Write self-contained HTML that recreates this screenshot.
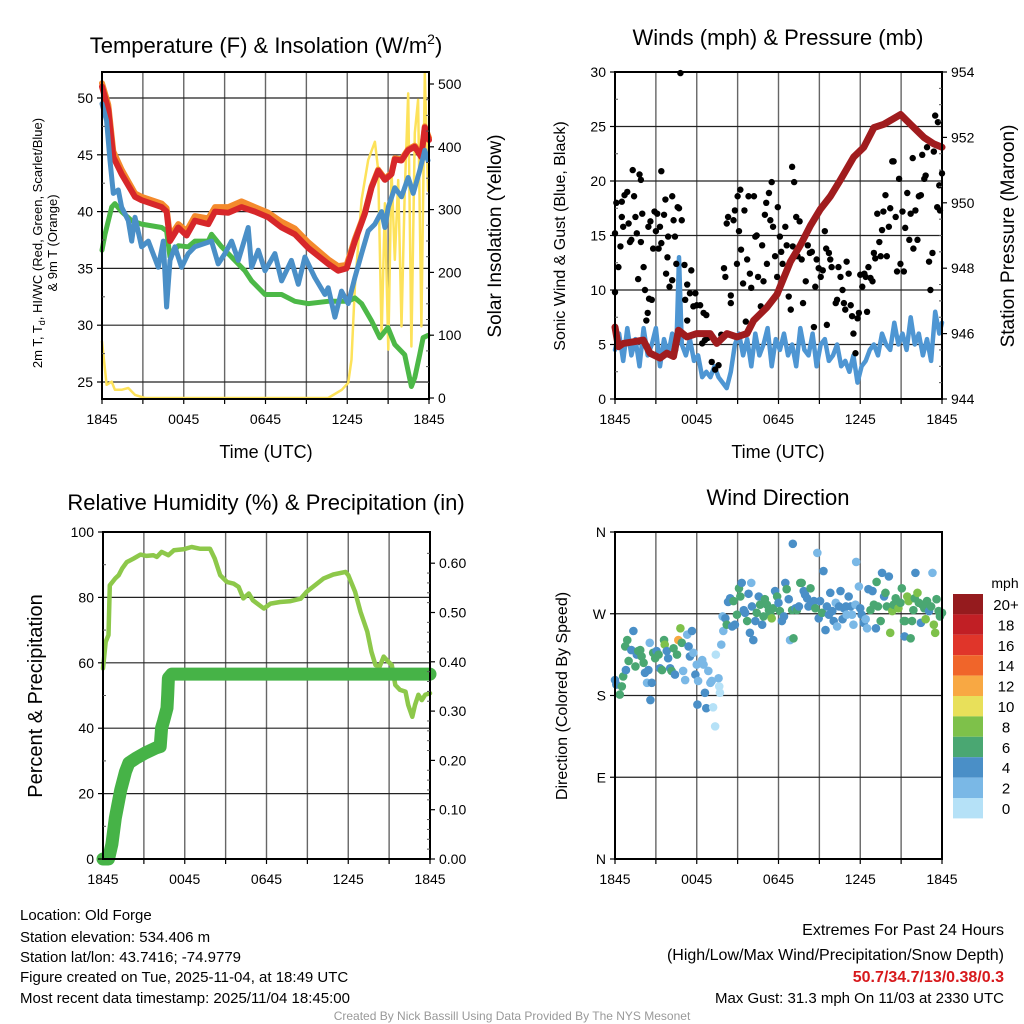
<!DOCTYPE html>
<html><head><meta charset="utf-8"><style>
body{margin:0;background:#fff;}
svg{display:block;font-family:"Liberation Sans",sans-serif;}
</style></head><body>
<svg id="chart" width="1024" height="1024" viewBox="0 0 1024 1024" xmlns="http://www.w3.org/2000/svg">
<rect x="0" y="0" width="1024" height="1024" fill="#fff"/>
<g id="p1"></g>
<g id="p2"></g>
<g id="p3"></g>
<g id="p4"></g>
<g font-size="22" text-anchor="middle" fill="#000">
<text x="266" y="53">Temperature (F) &amp; Insolation (W/m<tspan font-size="14" dy="-9">2</tspan><tspan dy="9">)</tspan></text>
<text x="778" y="45">Winds (mph) &amp; Pressure (mb)</text>
<text x="266" y="510">Relative Humidity (%) &amp; Precipitation (in)</text>
<text x="778" y="505">Wind Direction</text>
</g>
<g fill="#000" text-anchor="middle">
<text x="266" y="458" font-size="18">Time (UTC)</text>
<text x="778" y="458" font-size="18">Time (UTC)</text>
<text transform="translate(42,243) rotate(-90)" font-size="13">2m T, T<tspan font-size="9" dy="3">d</tspan><tspan dy="-3">, HI/WC (Red, Green, Scarlet/Blue)</tspan></text>
<text transform="translate(57,243) rotate(-90)" font-size="13">&amp; 9m T (Orange)</text>
<text transform="translate(501,236) rotate(-90)" font-size="19">Solar Insolation (Yellow)</text>
<text transform="translate(565,236) rotate(-90)" font-size="16">Sonic Wind &amp; Gust (Blue, Black)</text>
<text transform="translate(1014,236) rotate(-90)" font-size="19">Station Pressure (Maroon)</text>
<text transform="translate(42,696) rotate(-90)" font-size="20">Percent &amp; Precipitation</text>
<text transform="translate(567,696) rotate(-90)" font-size="16">Direction (Colored By Speed)</text>
</g>
<g font-size="15" fill="#000">
<text x="20" y="920">Location: Old Forge</text>
<text x="20" y="942">Station elevation: 534.406 m</text>
<text x="20" y="962">Station lat/lon: 43.7416; -74.9779</text>
<text x="20" y="982">Figure created on Tue, 2025-11-04, at 18:49 UTC</text>
<text x="20" y="1003">Most recent data timestamp: 2025/11/04 18:45:00</text>
</g>
<g font-size="16" fill="#000" text-anchor="end">
<text x="1004" y="935">Extremes For Past 24 Hours</text>
<text x="1004" y="960">(High/Low/Max Wind/Precipitation/Snow Depth)</text>
<text x="1004" y="982" fill="#d7191c" font-weight="bold" font-size="16">50.7/34.7/13/0.38/0.3</text>
<text x="1004" y="1003" font-size="15">Max Gust: 31.3 mph On 11/03 at 2330 UTC</text>
</g>
<text x="512" y="1020" font-size="12" fill="#999" text-anchor="middle">Created By Nick Bassill Using Data Provided By The NYS Mesonet</text>
</svg>
<script>
// ---- Panel 1 data (t = hours since 18:45) ----
const redT=[0,0.46,0.83,1.44,2.42,2.91,4.38,4.74,4.99,5.6,6.21,6.82,7.8,8.29,9.27,10.24,11.22,12.2,13.18,14.16,15.14,16.6,17.33,17.95,18.56,19.29,19.78,20.27,20.76,21.25,21.49,21.98,22.47,22.95,23.44,23.69,24];
const redV=[51,49,44.8,43.3,41.3,41,40.4,40,37.4,38.6,37.9,39.2,38.9,40,39.9,40.4,40,39.5,38.6,38,36.8,35.4,34.8,35,37.4,39.8,42.1,43.6,42.8,43.3,44.6,44.5,45.4,45.7,44.8,47.4,46.3];
const orangeV=[51.3,49.4,45.3,43.7,41.6,41.3,40.7,40.3,37.8,38.9,38.3,39.6,39.4,40.4,40.4,40.9,40.4,39.9,39.1,38.5,37.3,35.8,35.2,35.3,37.6,39.9,42.2,43.7,42.9,43.4,44.7,44.6,45.5,45.8,45,47.5,46.5];
const greenT=[0,0.22,0.71,0.95,1.44,2.18,2.91,4.38,4.74,4.99,5.6,6.33,6.82,7.8,8.04,8.78,9.75,10.49,10.98,11.96,13.18,14.16,15.14,16.6,18.07,18.56,19.05,19.78,20.39,20.98,21.49,22.22,22.71,22.96,23.32,23.57,23.93];
const greenV=[36.6,38,40.4,40.7,40,39.2,38.9,38.6,38.3,36,37,36.9,37.4,37.4,38,36.9,35.7,34.8,33.9,32.7,32.7,32.1,31.9,32.1,32.1,32.4,31.9,30.4,28.9,29.8,28.3,27.4,24.6,25.4,27.4,28.9,29.1];
const blueT=[0,0.34,0.59,0.83,1.2,1.44,1.93,2.18,2.42,2.91,3.4,4.13,4.5,4.74,4.99,5.35,5.84,6.33,6.82,8.04,8.53,9.02,9.51,10,10.73,10.98,11.47,11.96,12.69,13.18,13.9,14.41,14.89,15.62,16.36,16.6,17.09,17.58,18.07,18.56,19.05,19.54,20.03,20.52,20.76,21.01,21.49,21.98,22.47,22.84,23.32,23.69,23.93];
const blueV=[49.5,48,44.5,41.6,41.9,40.4,39.2,37.4,39.5,36.9,37.4,35.1,37.4,31.6,35.7,36.9,35.1,36.3,36.9,37.4,35.4,36.3,37.4,35.7,38.6,35.1,36.6,34.8,36.3,33.9,35.7,33.6,36,34.2,32.7,33.3,30.7,33,31.9,34.2,36.3,38.3,38.9,40,38.6,40.4,42.1,41.3,43,41.6,43.6,45.4,44.5];
const solarT=[0,0.34,0.71,0.95,1.44,1.93,2.42,3.15,16.6,17.6,18.07,18.31,18.56,18.8,19.05,19.54,20.03,20.27,20.52,20.76,21.01,21.25,21.49,21.74,21.98,22.22,22.47,22.71,22.96,23.2,23.44,23.69,23.93];
const solarV=[90,21,26,13,13,16,5,0,0,13,24,61,178,241,316,379,408,363,98,310,77,363,220,347,114,326,485,82,422,475,114,517,330];
// ---- Panel 2 data ----
const presT=[0,0.25,0.61,1.35,2.08,2.57,3.31,3.8,4.29,4.66,5.27,6.0,6.98,7.47,8.21,8.95,9.68,10.17,11.15,11.89,12.38,12.87,13.6,14.34,15.07,15.81,16.54,17.52,18.26,19.0,19.73,20.96,21.69,22.67,23.4,24];
const presV=[946.2,945.6,945.7,945.75,945.8,945.4,945.25,945.4,945.3,946.1,945.9,946,946,945.7,946,945.9,946,946.4,946.8,947.2,947.7,948.2,948.7,949.3,949.8,950.2,950.7,951.4,951.7,952.3,952.4,952.7,952.4,952,951.8,951.7];
const windT=[0,0.3,0.6,0.9,1.2,1.5,1.8,2.1,2.4,2.7,3.0,3.3,3.6,3.9,4.2,4.5,4.7,4.9,5.2,5.5,5.8,6.1,6.4,6.7,7.0,7.3,7.6,7.9,8.2,8.5,8.8,9.1,9.4,9.7,10,10.3,10.6,10.9,11.2,11.5,11.8,12.1,12.4,12.7,13,13.3,13.6,13.9,14.2,14.5,14.8,15.1,15.4,15.7,16,16.3,16.6,16.9,17.2,17.5,17.8,18.1,18.4,18.7,19,19.3,19.6,19.9,20.2,20.5,20.8,21.1,21.4,21.7,22,22.3,22.6,22.9,23.2,23.5,23.8,24];
const windV=[4.5,6,3.5,6.5,4,5.5,3,6.5,4,5,6.5,3,5.5,4,6,4.5,13,5,4,5.5,3.5,4,2,2.5,2,3,2,1.5,1,2.5,5,6,4,5.5,3,6,4,5,6.5,3,5.5,4.5,6,4,5,3,6.5,4.5,4,6,3,5,5.5,3.5,4,5,3,3.5,2.5,4,1.5,3,3.5,4.5,5,4,6,5,4.5,7,5,6,4.5,7.5,5,6,4,5.5,3.5,8,6,7];
const gustT=[0,0,0.1,0.25,0.4,0.5,0.5,0.6,0.7,0.9,1,1.1,1.2,1.3,1.4,1.5,1.6,1.7,1.8,1.9,1.9,2.0,2.1,2.2,2.3,2.4,2.5,2.7,2.45,2.6,2.8,2.9,3.0,3.1,3.2,3.3,3.4,3.4,3.6,3.7,3.75,3.85,3.9,4.0,4.2,4.2,4.3,4.4,4.5,4.6,4.7,4.8,4.9,5.1,5.15,5.3,5.3,5.5,5.6,5.75,5.9,6.0,6.25,6.5,6.7,6.4,6.6,6.8,7.1,7.35,7.6,7.8,8.0,8.1,8.2,8.3,8.5,8.5,8.7,8.8,8.95,9.0,9.1,9.2,9.25,9.4,9.5,9.6,9.7,9.8,9.9,10,10.2,10.3,10.4,10.5,10.7,10.8,10.9,11,11.1,11.15,11.3,11.4,11.5,11.6,11.75,11.9,11.95,12.1,12.2,12.3,12.5,12.6,12.75,12.9,13,13.05,13.15,13.3,13.4,13.55,13.7,13.8,14,14.15,14.3,14.45,14.6,14.7,14.8,14.95,15.1,15.25,15.4,15.5,15.55,15.7,15.8,15.9,16.2,16.3,16.4,16.55,16.7,16.8,16.9,17,17.15,17.3,17.4,17.5,17.65,17.8,17.9,18,18.15,18.3,18.4,18.5,18.6,18.75,18.9,19,19.1,19.25,19.4,19.5,19.6,19.7,19.85,19.95,20.1,20.2,20.35,20.45,20.6,20.7,20.85,20.95,21.1,21.2,21.3,21.45,21.6,21.7,21.85,21.9,22.05,22.2,22.3,22.45,22.55,22.7,22.8,22.9,23.05,23.15,23.3,23.4,23.5,23.65,23.7,23.8,23.85,24];
const gustV=[9.8,15.2,18,12.1,14,18.1,16.7,15.8,18.7,19,16.1,14.4,14.6,21,18.6,16.7,15.2,11,20.6,20.1,14.4,17,12.1,10,7.2,7.9,9.2,9.1,15.8,16.3,13.8,17.2,15.4,17,13.8,15.8,14.3,20.9,16.9,18.3,11.5,13,14.9,10.3,10.9,18.6,16.4,14.9,12.4,17.6,17.5,29.9,16.4,12.3,9.1,7.2,10.5,9.7,11.8,8.5,9.7,8.6,8.6,7.9,7.7,5.1,5.4,5.6,3.4,2.7,3.1,5.9,12,11.2,16.1,16.7,9.5,8.8,16.4,17.3,12.4,18.6,15.4,19.2,13.7,10.6,17.3,7.1,12.8,18.6,11.5,10.2,18.6,14.9,15,11.2,8.5,14.1,10.8,16.9,18,12.4,18.9,16.4,19.9,15.8,13.1,11.2,17.6,14.9,13.5,12.4,15.8,14.1,9.4,8.2,21.3,14,19.9,16.7,13.1,16.3,12.8,8.8,10.8,14.1,13.4,13.5,6.6,10.3,12.8,12,11.2,11.8,15.4,13.8,6.8,13.4,12.8,12.1,8.8,9.1,12.1,11.2,10,8.8,8.2,12.6,11.5,8.6,7.6,6,4.2,7.4,7.9,11.4,10.3,11.5,11.2,8,12.1,11.1,10.8,13.4,12.9,17,14.4,13.1,15.5,17.2,18.7,13.1,15.8,17.5,21.8,21.8,16.7,11.7,20.2,12.4,17.2,11.7,15.7,18.9,14.6,17,22.1,13.8,17.3,14.6,18.6,18.7,22.4,20.2,20.5,23.1,12.6,10,13.4,22.7,26,17.6,25.4,19.6,17.3,20.7];
// ---- Panel 3 data ----
const rhT=[0,0.2,0.4,0.5,0.9,1.15,1.4,1.75,2.25,2.75,3.2,3.7,3.95,4.3,4.8,5.2,5.9,6.5,7.1,7.85,8.2,8.6,9.1,9.6,9.95,10.3,10.7,11,11.8,12.3,13,13.7,14.5,14.95,15.7,16.2,16.9,17.8,18,18.5,18.9,19.4,19.7,20,20.3,20.6,20.95,21.2,21.45,21.8,22.2,22.4,22.7,22.9,23.15,23.4,23.65,24];
const rhV=[58.3,66.4,68.5,83.7,85.8,86.8,88.8,90.8,91.9,93.1,92.7,92.9,92.4,93.9,92.9,94.4,94.7,95.4,94.9,94.9,91.9,86.8,84.7,84.2,83.2,79.7,81.2,79.1,76.6,78.1,78.6,78.8,79.6,81.7,84.2,85.8,87,87.8,86.8,81.7,75.6,69.5,63.4,59.3,58.8,61.9,60.3,59.3,53.2,51.7,51.2,47.1,43.5,47.1,50.2,48.6,50.2,50.7];
const pcpT=[0,0.4,0.65,0.9,1.3,1.65,1.9,2.4,3.1,3.85,4.2,4.3,4.45,4.7,4.75,4.8,5.05,24];
const pcpV=[0,0,0.03,0.083,0.14,0.177,0.195,0.204,0.215,0.225,0.228,0.266,0.28,0.306,0.333,0.367,0.375,0.375];
// ---- Panel 4 data ----
const dirT=[0,0.1,0.35,0.5,0.6,0.75,0.8,0.9,1,1.2,1.35,1.5,1.6,1.7,1.85,1.95,2.1,2.2,2.35,2.45,2.55,2.6,2.7,2.8,2.95,3.05,3.2,3.3,3.45,3.6,3.65,3.8,3.9,4.05,4.15,4.3,4.4,4.55,4.65,4.8,4.9,5.0,5.15,5.3,5.4,5.5,5.65,5.75,5.9,6.0,6.05,6.1,6.4,6.5,6.6,6.7,6.85,7.0,7.1,7.2,7.35,7.4,7.6,7.65,7.7,7.8,7.9,7.95,8.1,8.2,8.3,8.45,8.6,8.7,8.8,8.95,9.1,9.2,9.3,9.45,9.55,9.7,9.8,9.9,10,10.05,10.15,10.3,10.4,10.55,10.65,10.8,10.9,11.0,11.15,11.3,11.4,11.5,11.6,11.75,11.9,12.0,12.1,12.25,12.4,12.5,12.6,12.75,12.85,13.0,13.1,13.05,13.25,13.35,13.5,13.6,13.7,13.85,13.95,14.1,14.2,14.35,14.45,14.6,14.7,14.85,14.95,15.05,15.2,15.3,15.45,15.55,15.7,15.8,15.95,16.05,16.2,16.3,16.45,16.55,16.7,16.8,16.95,17.0,17.15,17.3,17.4,17.5,17.65,17.7,17.9,18.0,18.1,18.25,18.4,18.5,18.6,18.75,18.9,19.0,19.15,19.2,19.3,19.5,19.6,19.75,19.85,19.95,20.1,20.2,20.35,20.45,20.6,20.7,20.8,20.95,21.05,21.2,21.25,21.3,21.45,21.55,21.7,21.8,21.9,22.0,22.05,22.2,22.3,22.45,22.55,22.7,22.8,22.9,23.05,23.2,23.3,23.4,23.5,23.6,23.75,23.85,24];
const dirD=[197,192,181,190,201,234,208,241,218,230,251,212,225,229,230,223,216,205,194,208,238,175,194,227,221,229,225,210,208,241,236,229,221,210,207,232,203,225,241,254,238,207,197,247,234,223,251,227,203,214,170,196,219,214,183,166,207,194,196,167,146,225,199,190,183,236,267,251,265,258,283,287,256,284,258,269,298,289,304,274,271,262,292,249,304,278,241,262,271,289,280,258,267,286,280,274,269,265,276,295,289,282,273,262,267,304,297,286,241,274,243,347,276,274,278,304,304,295,291,287,278,298,280,284,276,337,265,284,271,317,252,278,269,293,273,262,282,256,278,295,264,276,278,269,289,278,269,258,280,327,300,276,269,260,264,254,297,274,295,280,254,305,278,262,315,289,293,278,311,249,273,280,287,278,276,282,298,262,245,262,289,284,243,262,274,287,315,293,282,260,280,276,264,284,273,278,315,258,249,286,273,267,271];
const dirS=[4,4,6,6,6,6,4,6,6,4,4,6,4,6,6,6,6,4,2,4,2,4,4,6,6,4,6,4,6,6,8,4,4,4,6,6,4,6,12,8,6,2,2,2,4,4,4,2,4,2,4,2,2,2,4,4,2,2,2,0,0,0,2,0,0,2,2,2,4,6,4,4,4,6,4,6,6,6,4,4,4,6,4,4,2,4,4,4,6,4,6,4,6,6,6,6,6,8,6,4,6,4,6,4,4,4,6,4,2,6,6,4,4,6,4,6,6,4,4,4,4,6,4,4,6,2,4,4,6,4,4,4,4,4,4,4,2,2,4,4,4,4,4,2,4,4,2,2,2,2,2,4,4,4,2,2,4,6,4,6,4,6,6,6,4,4,6,6,4,8,8,6,6,6,8,6,6,6,4,6,8,8,6,6,6,6,4,8,6,4,6,6,8,6,4,6,2,8,8,6,6,6,6];
const cbLabels=["20+","18","16","14","12","10","8","6","4","2","0"];
const cbColors=["#951b1e","#c11f25","#e0352a","#f0652a","#f8a843","#e8e05a","#7ec14a","#4aa772","#4a8fc7","#7ab8e6","#b5e1f7"];
const hourTicks=[0,6,12,18,24];
const hourTickLabels=["1845","0045","0645","1245","1845"];

const NS="http://www.w3.org/2000/svg";
function mk(parent,tag,attrs){const e=document.createElementNS(NS,tag);for(const k in attrs)e.setAttribute(k,attrs[k]);parent.appendChild(e);return e;}
function txt(parent,x,y,s,size,anchor){const e=mk(parent,'text',{x:x,y:y,'font-size':size,'text-anchor':anchor,fill:'#000'});e.textContent=s;return e;}

function frame(g,L,R,T,B,hGridVals,yFn,name){
  const x=t=>L+t/24*(R-L);
  for(let h=3;h<24;h+=3){const l=mk(g,'line',{x1:x(h),x2:x(h),y1:T,y2:B,stroke:'#666','stroke-width':1.4});
    
    }
  hGridVals.forEach(v=>{const l=mk(g,'line',{x1:L,x2:R,y1:yFn(v),y2:yFn(v),stroke:'#222','stroke-width':1.2});
    
    });
  for(let h=0;h<=24;h+=3){mk(g,'line',{x1:x(h),x2:x(h),y1:B,y2:B+5,stroke:'#000','stroke-width':1.2});}
  hourTicks.forEach((h,i)=>{const e=txt(g,x(h),B+25,hourTickLabels[i],14,'middle');
    
    });
  return x;
}
function border(g,L,R,T,B){const r=mk(g,'rect',{x:L,y:T,width:R-L,height:B-T,fill:'none',stroke:'#000','stroke-width':2});
  
  }
function poly(g,xs,ys,xf,yf,color,w,name){
  const n=Math.min(xs.length,ys.length);let d='';
  for(let i=0;i<n;i++)d+=(i?'L':'M')+xf(xs[i]).toFixed(1)+','+yf(ys[i]).toFixed(1);
  const p=mk(g,'path',{d:d,fill:'none',stroke:color,'stroke-width':w,'stroke-linejoin':'round','stroke-linecap':'round'});
  
  
  return p;}
function yticks(g,vals,labels,yf,xEdge,side,minorVals){
  vals.forEach((v,i)=>{const y=yf(v);
    mk(g,'line',{x1:xEdge,x2:xEdge+(side<0?-5:5),y1:y,y2:y,stroke:'#000','stroke-width':1.2});
    const e=txt(g,xEdge+(side<0?-9:9),y+5,labels[i],14,side<0?'end':'start');
    
    });
  (minorVals||[]).forEach(v=>{const y=yf(v);mk(g,'line',{x1:xEdge,x2:xEdge+(side<0?3:-3),y1:y,y2:y,stroke:'#555','stroke-width':1});});
}

// Panel 1
(function(){
  const g=document.getElementById('p1');const L=102,R=429,T=72,B=399;
  const yT=v=>382-(v-25)*11.36, yS=v=>398-v*0.628;
  const x=frame(g,L,R,T,B,[25,30,35,40,45,50],yT,'temp');
  poly(g,solarT,solarV,x,yS,'#fde25a',2.5,'solar-line');
  poly(g,greenT,greenV,x,yT,'#4cb847',5,'heat-index-line');
  poly(g,redT,orangeV,x,yT,'#f48a2c',6,'9m-temp-line');
  poly(g,redT,redV,x,yT,'#d7272a',6,'2m-temp-line');
  poly(g,blueT,blueV,x,yT,'#4a8fc7',5,'wind-chill-line');
  border(g,L,R,T,B);
  yticks(g,[25,30,35,40,45,50],['25','30','35','40','45','50'],yT,L,-1,[27.5,32.5,37.5,42.5,47.5]);
  yticks(g,[0,100,200,300,400,500],['0','100','200','300','400','500'],yS,R,1,[25,50,75,125,150,175,225,250,275,325,350,375,425,450,475]);
})();
// Panel 2
(function(){
  const g=document.getElementById('p2');const L=615,R=942,T=72,B=399;
  const yW=v=>399-v*10.9, yP=v=>399-(v-944)*32.7;
  const x=frame(g,L,R,T,B,[5,10,15,20,25,30],yW,'winds');
  poly(g,windT,windV,x,yW,'#4e96d3',4.5,'sonic-wind-line');
  const n=Math.min(gustT.length,gustV.length);
  for(let i=0;i<n;i++){const c=mk(g,'circle',{cx:x(gustT[i]),cy:yW(gustV[i]),r:3.2,fill:'#000'});
    
    }
  poly(g,presT,presV,x,yP,'#a01c1e',7,'pressure-line');
  border(g,L,R,T,B);
  yticks(g,[0,5,10,15,20,25,30],['0','5','10','15','20','25','30'],yW,L,-1,[2.5,7.5,12.5,17.5,22.5,27.5]);
  yticks(g,[944,946,948,950,952,954],['944','946','948','950','952','954'],yP,R,1,[944.5,945,945.5,946.5,947,947.5,948.5,949,949.5,950.5,951,951.5,952.5,953,953.5]);
})();
// Panel 3
(function(){
  const g=document.getElementById('p3');const L=103,R=430,T=532,B=859;
  const yR=v=>859-v*3.27, yPc=v=>859-v*493;
  const x=frame(g,L,R,T,B,[20,40,60,80],yR,'humidity');
  poly(g,rhT,rhV,x,yR,'#8dc84a',4.5,'humidity-line');
  poly(g,pcpT,pcpV,x,yPc,'#46b347',13,'precip-line');
  border(g,L,R,T,B);
  yticks(g,[0,20,40,60,80,100],['0','20','40','60','80','100'],yR,L,-1,[10,30,50,70,90]);
  yticks(g,[0,0.1,0.2,0.3,0.4,0.5,0.6],['0.00','0.10','0.20','0.30','0.40','0.50','0.60'],yPc,R,1,[0.02,0.04,0.06,0.08,0.12,0.14,0.16,0.18,0.22,0.24,0.26,0.28,0.32,0.34,0.36,0.38,0.42,0.44,0.46,0.48,0.52,0.54,0.56,0.58,0.62]);
})();
// Panel 4
(function(){
  const g=document.getElementById('p4');const L=615,R=942,T=532,B=859;
  const yD=v=>859-v/360*327;
  const x=frame(g,L,R,T,B,[90,180,270],yD,'direction');
  const n=Math.min(dirT.length,dirD.length,dirS.length);
  for(let i=0;i<n;i++){const idx=Math.max(0,Math.min(10,10-Math.floor(dirS[i]/2)));
    const c=mk(g,'circle',{cx:x(dirT[i]),cy:yD(dirD[i]),r:4.3,fill:cbColors[idx]});
    
    }
  border(g,L,R,T,B);
  yticks(g,[0,90,180,270,360],['N','E','S','W','N'],yD,L,-1,[]);
  const cb=mk(g,'g',{});
  
  
  txt(cb,1005,588,'mph',14,'middle');
  cbLabels.forEach((lab,i)=>{const y=594+i*20.4;
    const r=mk(cb,'rect',{x:953,y:y,width:30,height:20.4,fill:cbColors[i]});
    
    
    txt(cb,1006,y+16,lab,15,'middle');});
})();
</script>
</body></html>
